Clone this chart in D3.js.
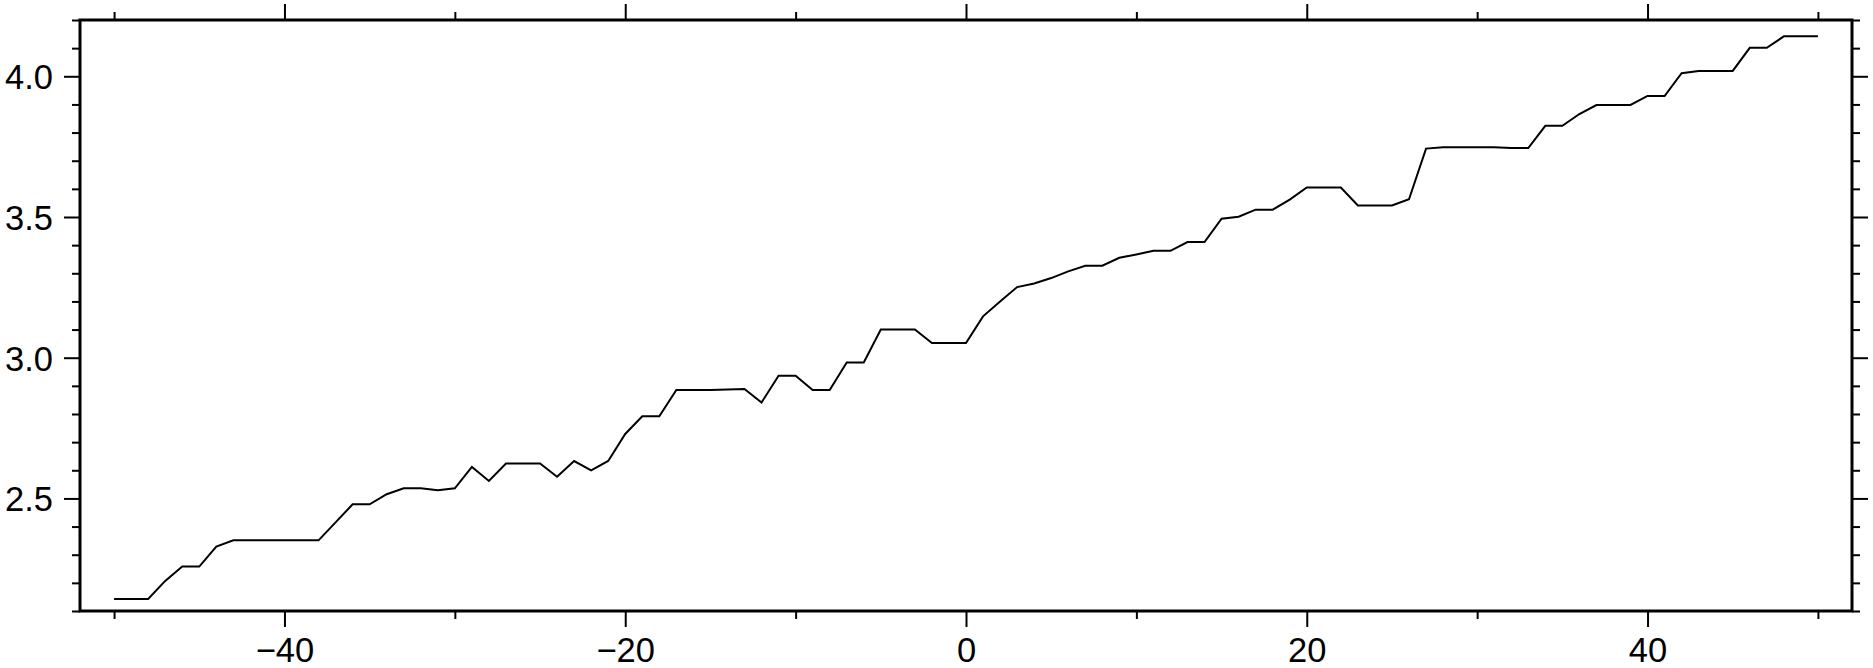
<!DOCTYPE html>
<html>
<head>
<meta charset="utf-8">
<script src="https://cdn.jsdelivr.net/npm/d3@7"></script>
<style>
  html, body { margin: 0; padding: 0; background: #fff; }
  svg { display: block; }
  .axis text { font-family: "Liberation Sans", Arial, Helvetica, sans-serif; font-size: 34.5px; fill: #000; }
  .axis line { stroke: #000; stroke-width: 2px; }
  .axis path.domain { display: none; }
</style>
</head>
<body>
<div id="chart"></div>
<script>
// x positions and values of the curve
var xValues = [-50,-49,-48,-47,-46,-45,-44,-43,-42,-41,-40,-39,-38,-37,-36,-35,-34,-33,-32,-31,
  -30,-29,-28,-27,-26,-25,-24,-23,-22,-21,-20,-19,-18,-17,-16,-15,-14,-13,-12,-11,
  -10,-9,-8,-7,-6,-5,-4,-3,-2,-1,0,1,2,3,4,5,6,7,8,9,
  10,11,12,13,14,15,16,17,18,19,20,21,22,23,24,25,26,27,28,29,
  30,31,32,33,34,35,36,37,38,39,40,41,42,43,44,45,46,47,48,49,50];
var yValues = [2.143,2.143,2.143,2.207,2.258,2.258,2.329,2.351,2.351,2.351,
  2.351,2.351,2.351,2.415,2.479,2.479,2.515,2.536,2.536,2.529,
  2.536,2.612,2.562,2.624,2.624,2.624,2.577,2.633,2.600,2.633,
  2.729,2.792,2.792,2.885,2.885,2.885,2.887,2.889,2.841,2.936,
  2.936,2.885,2.885,2.983,2.983,3.100,3.100,3.100,3.052,3.052,
  3.052,3.147,3.200,3.251,3.264,3.283,3.307,3.327,3.327,3.355,
  3.367,3.380,3.380,3.411,3.411,3.494,3.501,3.526,3.526,3.562,
  3.605,3.605,3.605,3.541,3.541,3.541,3.563,3.743,3.748,3.748,
  3.748,3.748,3.745,3.745,3.824,3.824,3.866,3.898,3.898,3.898,
  3.930,3.930,4.011,4.019,4.019,4.019,4.101,4.101,4.142,4.142,4.142];

// tick values
var xMajorTicks = [-40, -20, 0, 20, 40];
var xMinorTicks = [-50, -30, -10, 10, 30, 50];
var yMajorTicks = [2.5, 3.0, 3.5, 4.0];
var yMinorTicks = [2.1,2.2,2.3,2.4,2.6,2.7,2.8,2.9,3.1,3.2,3.3,3.4,3.6,3.7,3.8,3.9,4.1,4.2];

var width = 1873, height = 668;
var margin = {top: 20, right: 21, bottom: 57, left: 80};
var innerW = width - margin.left - margin.right,
    innerH = height - margin.top - margin.bottom;

var svg = d3.select("#chart").append("svg")
    .attr("width", width)
    .attr("height", height);

var g = svg.append("g")
    .attr("transform", "translate(" + margin.left + "," + margin.top + ")");

var x = d3.scaleLinear().domain([-52, 52]).range([0, innerW]);
var y = d3.scaleLinear().domain([2.1, 4.2]).range([innerH, 0]);

// bottom axis: labelled majors + short minors
g.append("g").attr("class", "axis")
    .attr("transform", "translate(0," + innerH + ")")
    .call(d3.axisBottom(x).tickValues(xMajorTicks).tickSize(16).tickPadding(11))
    .selectAll("text").attr("dy", "0.71em");
g.append("g").attr("class", "axis")
    .attr("transform", "translate(0," + innerH + ")")
    .call(d3.axisBottom(x).tickValues(xMinorTicks).tickSize(8).tickFormat(""));

// top axis: ticks only
g.append("g").attr("class", "axis")
    .call(d3.axisTop(x).tickValues(xMajorTicks).tickSize(16).tickFormat(""));
g.append("g").attr("class", "axis")
    .call(d3.axisTop(x).tickValues(xMinorTicks).tickSize(8).tickFormat(""));

// left axis
g.append("g").attr("class", "axis")
    .call(d3.axisLeft(y).tickValues(yMajorTicks).tickSize(16).tickPadding(11).tickFormat(d3.format(".1f")))
    .selectAll("text").attr("dy", "0.36em");
g.append("g").attr("class", "axis")
    .call(d3.axisLeft(y).tickValues(yMinorTicks).tickSize(8).tickFormat(""));

// right axis
g.append("g").attr("class", "axis")
    .attr("transform", "translate(" + innerW + ",0)")
    .call(d3.axisRight(y).tickValues(yMajorTicks).tickSize(16).tickFormat(""));
g.append("g").attr("class", "axis")
    .attr("transform", "translate(" + innerW + ",0)")
    .call(d3.axisRight(y).tickValues(yMinorTicks).tickSize(8).tickFormat(""));

// data line
var pts = xValues.map(function(d, i) { return [d, yValues[i]]; });
var line = d3.line()
    .x(function(d) { return x(d[0]); })
    .y(function(d) { return y(d[1]); });

g.append("path")
    .datum(pts)
    .attr("d", line)
    .attr("fill", "none")
    .attr("stroke", "#000")
    .attr("stroke-width", 2)
    .attr("stroke-linejoin", "miter");

// frame
g.append("rect")
    .attr("x", 0).attr("y", 0)
    .attr("width", innerW).attr("height", innerH)
    .attr("fill", "none")
    .attr("stroke", "#000")
    .attr("stroke-width", 3);
</script>
</body>
</html>
